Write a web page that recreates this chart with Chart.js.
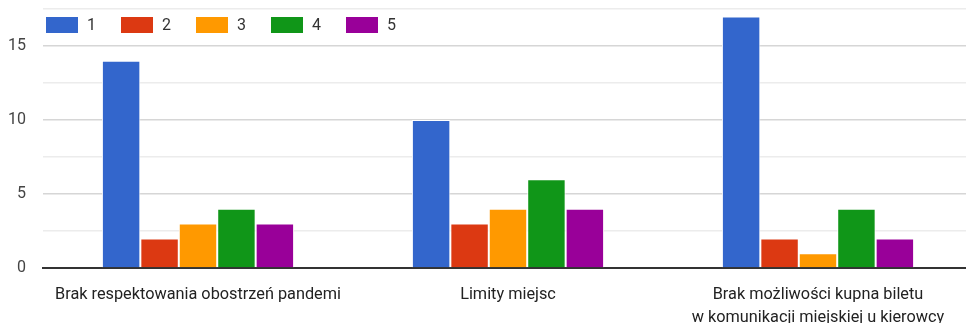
<!DOCTYPE html>
<html>
<head>
<meta charset="utf-8">
<script src="https://cdn.jsdelivr.net/npm/chart.js@4.4.1/dist/chart.umd.min.js"></script>
<style>
  html, body { margin: 0; padding: 0; background: #fff; overflow: hidden; }
  #wrap { position: relative; width: 973px; height: 323px; }
  #legend { position: absolute; left: 46px; top: 15px; display: flex; font: 16px Roboto, Arial, sans-serif; color: #333; }
  #legend .item { display: flex; align-items: center; width: 75px; }
  #legend .box { width: 32px; height: 16px; margin-right: 9px; }
</style>
</head>
<body>
<div id="wrap">
  <canvas id="chart" width="973" height="323"></canvas>
  <div id="legend"></div>
</div>
<script>
// categories and answer counts (ratings 1..5)
const categories = [
  'Brak respektowania obostrzeń pandemi',
  'Limity miejsc',
  ['Brak możliwości kupna biletu', 'w komunikacji miejskiej u kierowcy']
];
const seriesNames = ['1', '2', '3', '4', '5'];
const seriesColors = ['#3366cc', '#dc3912', '#ff9900', '#109618', '#990099'];
const rating1 = [14, 10, 17];
const rating2 = [2, 3, 2];
const rating3 = [3, 4, 1];
const rating4 = [4, 6, 4];
const rating5 = [3, 4, 2];
const yTicks = [0, 5, 10, 15];

const allSeries = [rating1, rating2, rating3, rating4, rating5];

const ctx = document.getElementById('chart').getContext('2d');
const chart = new Chart(ctx, {
  type: 'bar',
  data: {
    labels: categories,
    datasets: allSeries.map((vals, i) => ({
      label: seriesNames[i],
      data: vals,
      backgroundColor: seriesColors[i],
      borderColor: '#ffffff',
      borderWidth: 1,
      borderSkipped: 'bottom',
      barPercentage: 1,
      categoryPercentage: 0.62
    }))
  },
  options: {
    responsive: false,
    animation: false,
    layout: { padding: { top: 9, right: 0, left: 0, bottom: 0 } },
    plugins: {
      legend: { display: false },
      tooltip: { enabled: false }
    },
    scales: {
      x: {
        grid: { display: false },
        border: { display: true, color: '#333', width: 2 },
        ticks: {
          color: '#222',
          padding: 7,
          maxRotation: 0,
          autoSkip: false,
          font: { family: 'Roboto, Arial, sans-serif', size: 16.3, lineHeight: 1.41 }
        },
        afterFit: s => { s.height = 55; }
      },
      y: {
        min: 0,
        max: 17.5,
        border: { display: false },
        grid: {
          drawTicks: false,
          color: c => (c.tick && c.tick.value % 5 === 0) ? '#d6d6d6' : '#ececec',
          lineWidth: 1.5
        },
        ticks: {
          stepSize: 2.5,
          padding: 17,
          color: '#444',
          font: { family: 'Roboto, Arial, sans-serif', size: 16 },
          callback: v => yTicks.includes(v) ? v : ''
        },
        afterFit: s => { s.width = 43; s.paddingTop = 0; s.paddingBottom = 0; }
      }
    }
  }
});

// legend drawn as html on top of the plot area
const legend = document.getElementById('legend');
chart.data.datasets.forEach(ds => {
  const item = document.createElement('div');
  item.className = 'item';
  const box = document.createElement('span');
  box.className = 'box';
  box.style.background = ds.backgroundColor;
  const txt = document.createElement('span');
  txt.textContent = ds.label;
  item.appendChild(box);
  item.appendChild(txt);
  legend.appendChild(item);
});
</script>
</body>
</html>
